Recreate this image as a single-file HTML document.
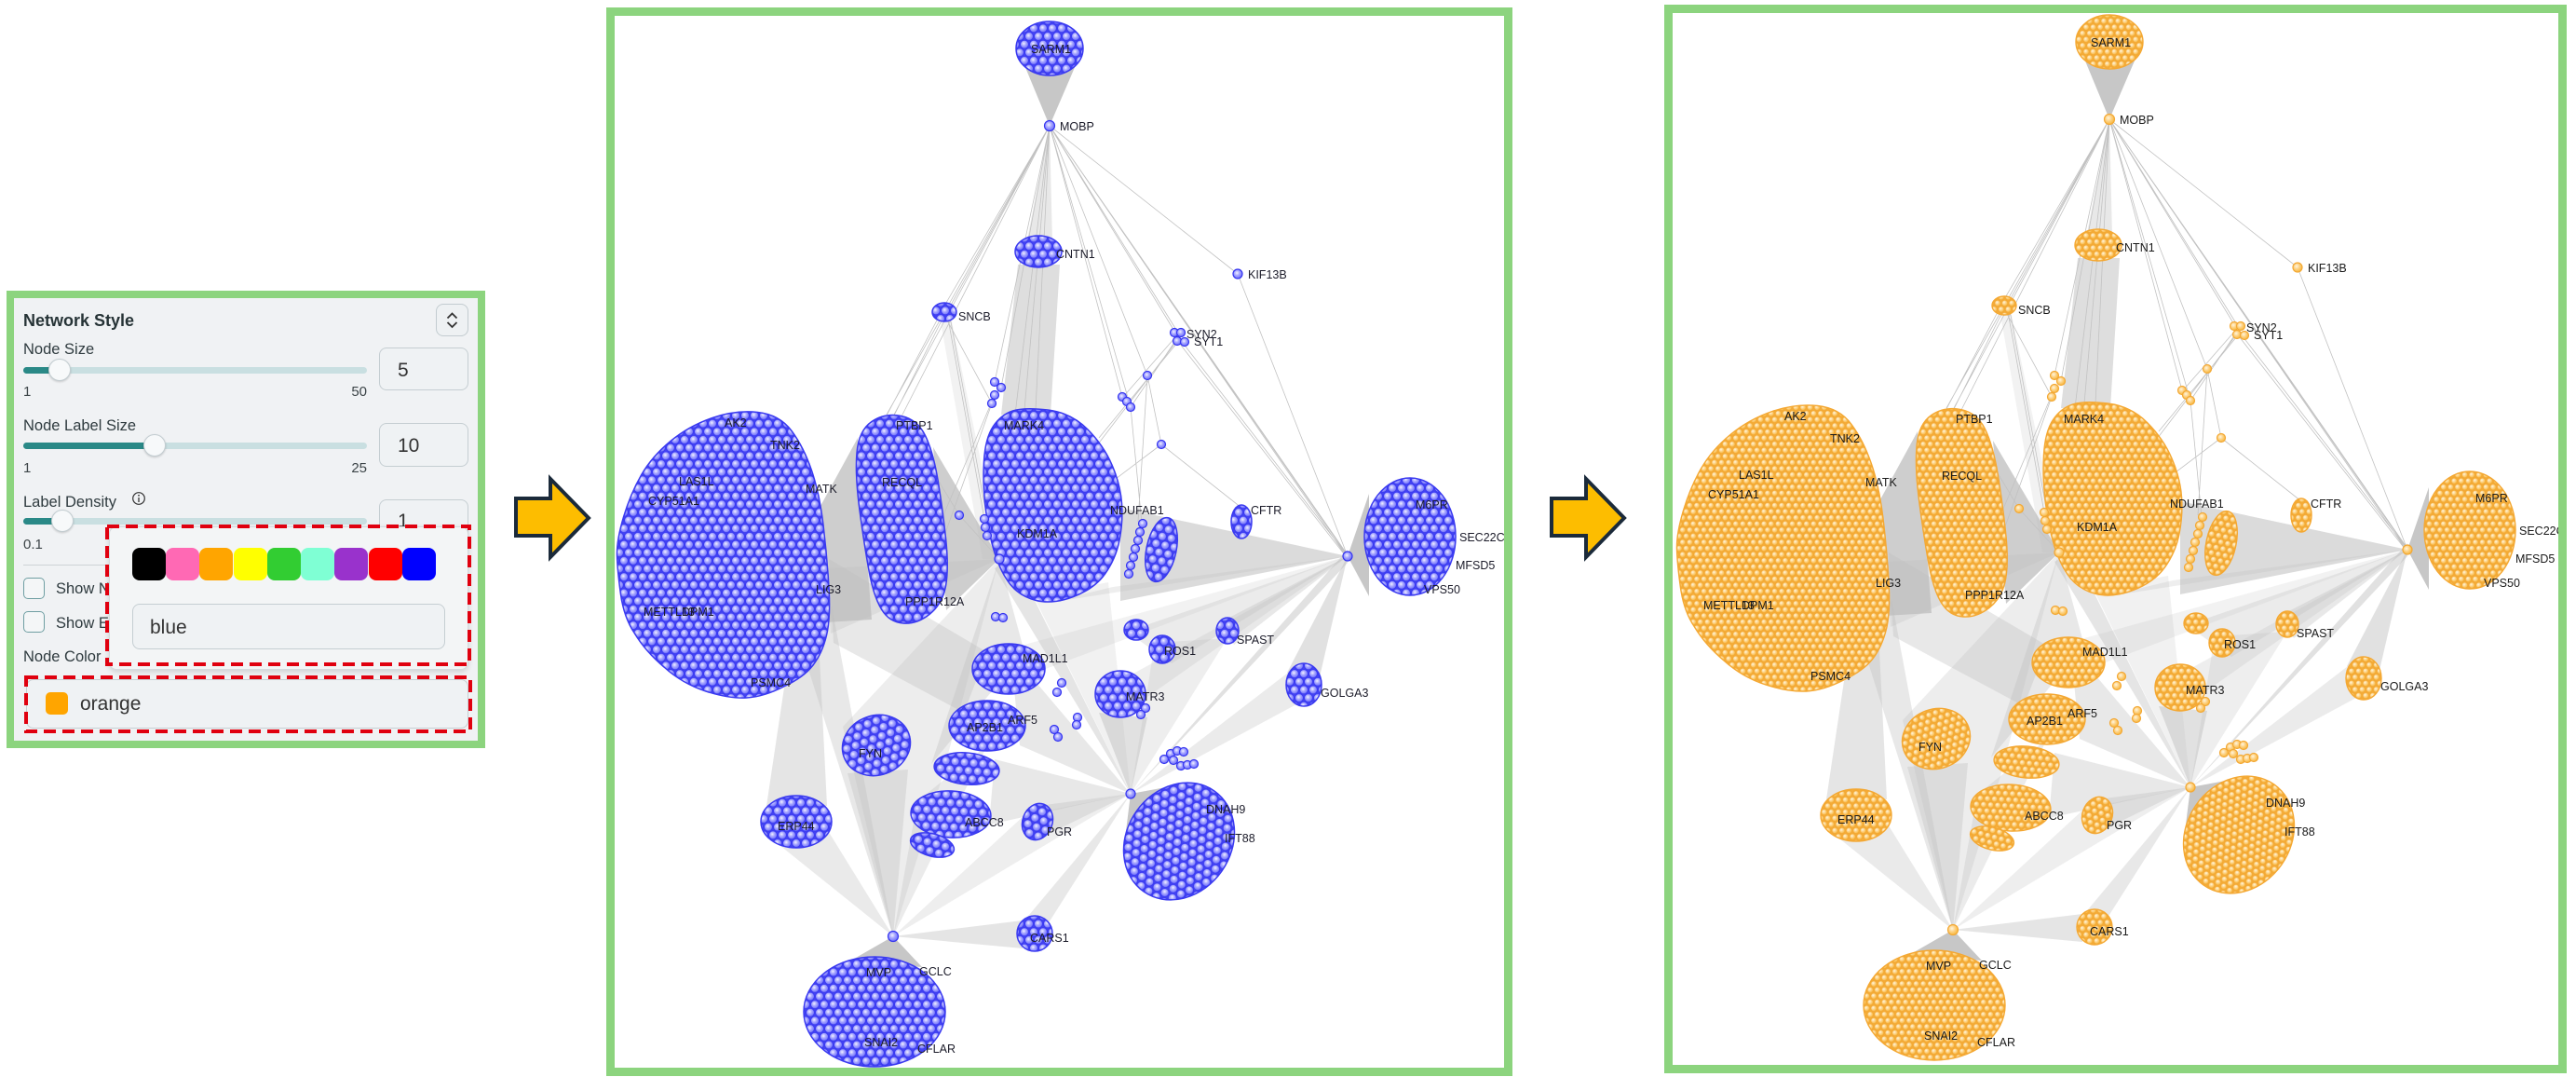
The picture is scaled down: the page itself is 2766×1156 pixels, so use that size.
<!DOCTYPE html>
<html><head><meta charset="utf-8">
<style>
html,body{margin:0;padding:0;background:#fff}
body{width:2766px;height:1156px;position:relative;overflow:hidden;font-family:"Liberation Sans",Arial,sans-serif}
.a{position:absolute}
.t{position:absolute;white-space:nowrap;line-height:1;color:#2f3b3f;font-family:"Liberation Sans",Arial,sans-serif}
.lb{font-size:16.5px}
.sm{font-size:15px;color:#3d4548}
.trk{position:absolute;left:25px;width:369px;height:7px;border-radius:4px;background:#c9dfe1}
.fil{position:absolute;left:25px;height:7px;border-radius:4px;background:#2a8987}
.thm{position:absolute;width:24px;height:24px;border-radius:50%;background:#f7f9fa;border:1px solid #c3cdd1;box-sizing:border-box;box-shadow:0 1px 2px rgba(0,0,0,.18)}
.inp{position:absolute;border:1px solid #c5ced2;border-radius:8px;box-sizing:border-box;background:#eff2f4}
.cb{position:absolute;left:25px;width:23px;height:23px;border:1.5px solid #6f9ea2;border-radius:5px;box-sizing:border-box;background:#f4f6f7}
.sw{position:absolute;top:588px;width:36px;height:35px;border-radius:8px}
</style></head><body>

<svg class="a" style="left:0;top:0" width="2766" height="1156" viewBox="0 0 2766 1156">
<defs>
<radialGradient id="gb" cx=".42" cy=".4" r=".62"><stop offset="0" stop-color="#f2f2ff"/><stop offset=".45" stop-color="#a6a6ff"/><stop offset="1" stop-color="#6c6cfa"/></radialGradient>
<radialGradient id="go" cx=".4" cy=".38" r=".62"><stop offset="0" stop-color="#fff6de"/><stop offset=".5" stop-color="#fdd285"/><stop offset="1" stop-color="#f8b940"/></radialGradient>
<pattern id="pb" width="10" height="17.32" patternUnits="userSpaceOnUse">
<rect width="10" height="17.32" fill="#4444f0"/>
<g fill="url(#gb)" stroke="#3a3af2" stroke-width="1"><circle cx="5" cy="4.33" r="4.5"/><circle cx="0" cy="12.99" r="4.5"/><circle cx="10" cy="12.99" r="4.5"/></g>
</pattern>
<pattern id="po" width="7.6" height="13.164" patternUnits="userSpaceOnUse">
<rect width="7.6" height="13.164" fill="#f4ab38"/>
<g fill="url(#go)" stroke="#f3a934" stroke-width="1"><circle cx="3.8" cy="3.291" r="3.3"/><circle cx="0" cy="9.873" r="3.3"/><circle cx="7.6" cy="9.873" r="3.3"/></g>
</pattern>

<g id="E">
<g fill="#bdbdbd" stroke="none">
<polygon points="1100,70 1155,70 1127,135" fill-opacity=".85"/>
<polygon points="1093,284 1138,284 1128,445 1075,445" fill-opacity=".5"/>
<polygon points="1127,135 1102,262 1130,262" fill-opacity=".35"/>
<polygon points="880,545 921,470 936,665 886,668" fill-opacity=".75"/>
<polygon points="1002,480 1016,655 1073,600" fill-opacity=".75"/>
<polygon points="1073,600 1058,520 1100,640" fill-opacity=".7"/>
<polygon points="866,712 893,650 959,1005" fill-opacity=".35"/>
<polygon points="842,738 880,705 888,865 823,865" fill-opacity=".4"/>
<polygon points="822,895 888,890 959,1005" fill-opacity=".32"/>
<polygon points="890,600 895,690 1035,765 1060,700" fill-opacity=".35"/>
<polygon points="1073,600 905,780 959,1005 1010,840" fill-opacity=".28"/>
<polygon points="959,1005 910,830 975,826" fill-opacity=".35"/>
<polygon points="959,1005 985,860 1060,800" fill-opacity=".3"/>
<polygon points="959,1005 1100,875 1214,852" fill-opacity=".25"/>
<polygon points="959,1005 1098,988 1098,1018" fill-opacity=".4"/>
<polygon points="959,1005 912,1032 990,1038" fill-opacity=".85"/>
<polygon points="1214,852 1068,610 1088,598" fill-opacity=".4"/>
<polygon points="1214,852 1085,700 1095,800" fill-opacity=".35"/>
<polygon points="1214,852 1068,815 1062,885" fill-opacity=".35"/>
<polygon points="1214,852 1122,864 1124,896" fill-opacity=".35"/>
<polygon points="1214,852 1100,988 1125,992" fill-opacity=".35"/>
<polygon points="1214,852 1180,765 1232,770" fill-opacity=".45"/>
<polygon points="1214,852 1110,640 1190,625" fill-opacity=".22"/>
<polygon points="1214,852 1447,590 1447,604" fill-opacity=".45"/>
<polygon points="1214,852 1383,722 1392,756" fill-opacity=".3"/>
<polygon points="1214,852 1240,690 1318,685" fill-opacity=".25"/>
<polygon points="1214,852 1208,900 1268,842" fill-opacity=".85"/>
<polygon points="1203,545 1447,597 1203,645" fill-opacity=".55"/>
<polygon points="1447,597 1470,530 1470,640" fill-opacity=".85"/>
<polygon points="1447,597 1210,678 1258,712" fill-opacity=".3"/>
<polygon points="1447,597 1310,668 1325,692" fill-opacity=".35"/>
<polygon points="1447,597 1382,722 1412,748" fill-opacity=".45"/>
<polygon points="1447,597 1120,648 1195,630" fill-opacity=".25"/>
<polygon points="1447,597 1100,692 1112,722" fill-opacity=".2"/>
<polygon points="1447,597 1195,735 1215,760" fill-opacity=".25"/>
<polygon points="1073,600 1000,820 1100,700" fill-opacity=".35"/>
<polygon points="1073,600 888,610 892,680" fill-opacity=".28"/>
<polygon points="1010,345 1022,345 1075,600 1055,600" fill-opacity=".2"/>
</g>
<path fill="none" stroke="#c2c2c2" stroke-width=".8" d="M1127 135L952 445M1127 135L960 445M1127 135L968 447M1127 135L1013 330M1127 135L1019 331M1127 135L1068 410M1127 135L1075 416M1127 135L1205 426M1127 135L1214 437M1127 135L1232 403M1127 135L1262 357M1127 135L1268 362M1127 135L1329 294M1127 135L1444 595M1127 135L1447 597M1127 135L1450 600M1127 135L1090 445M1127 135L1100 440M1127 135L1112 440M1008 340L952 446M1012 342L960 446M1016 342L1065 433M1020 340L1060 557M1018 342L1057 557M1329 294L1447 597M1270 368L1447 597M1266 368L1445 597M1262 366L1214 437M1262 362L1206 426M1264 368L1180 470M1262 368L1175 482M1232 403L1247 477M1247 477L1333 545M1247 477L1190 520M1214 437L1226 562M1232 403L1222 560M1030 553L1073 600M1030 553L998 500M1068 424L1010 560M1065 433L1005 600"/>
</g>

<g id="C">
<path d="M813.5,442.5 Q837,445 850,462.5 Q863,480 871.5,505 Q880,530 884,563.5 Q888,597 890,630 Q892,663 887.5,682 Q883,701 873,714 Q863,727 841.5,737 Q820,748 801.5,749 Q783,750 758,742 Q733,734 713,716 Q693,699 681.5,680 Q670,663 666.5,638 Q663,613 662.5,596.5 Q662,580 669.5,555 Q677,530 688.5,510 Q700,490 720,473.5 Q740,457 765,448.5 Q790,440 813.5,442.5 Z"/>
<path d="M967.5,446.5 Q985,450 993.5,467.5 Q1002,485 1007,515 Q1012,545 1015.5,577.5 Q1019,610 1015.5,629 Q1012,648 998.5,659 Q985,670 970,669 Q955,668 946.5,654 Q938,640 933,612.5 Q928,585 923,547.5 Q918,510 920,486 Q922,462 936,452.5 Q950,443 967.5,446.5 Z"/>
<path d="M1125,440 Q1150,443 1167.5,460.5 Q1185,478 1194,499 Q1203,520 1204.5,540 Q1206,560 1202,580 Q1198,600 1186.5,616 Q1175,632 1152.5,640.5 Q1130,649 1112.5,644.5 Q1095,640 1085,627.5 Q1075,615 1068.5,595 Q1062,575 1058.5,547.5 Q1055,520 1056.5,495 Q1058,470 1066.5,457.5 Q1075,445 1087.5,441 Q1100,437 1125,440 Z"/>
<ellipse cx="1514" cy="576" rx="49" ry="63"/>
<ellipse cx="939" cy="1086" rx="76" ry="59"/>
<ellipse cx="1266" cy="903" rx="56" ry="66" transform="rotate(35 1266 903)"/>
<ellipse cx="1127" cy="52" rx="36" ry="29"/>
<ellipse cx="1115" cy="270" rx="25" ry="17"/>
<ellipse cx="1014" cy="335" rx="13" ry="10"/>
<ellipse cx="1333" cy="560" rx="11" ry="18"/>
<ellipse cx="1247" cy="590" rx="16" ry="35" transform="rotate(12 1247 590)"/>
<ellipse cx="1083" cy="718" rx="39" ry="27"/>
<ellipse cx="1060" cy="779" rx="41" ry="27"/>
<ellipse cx="1038" cy="825" rx="35" ry="17" transform="rotate(5 1038 825)"/>
<ellipse cx="941" cy="800" rx="37" ry="32" transform="rotate(-20 941 800)"/>
<ellipse cx="1021" cy="874" rx="43" ry="25" transform="rotate(3 1021 874)"/>
<ellipse cx="1001" cy="907" rx="24" ry="12" transform="rotate(15 1001 907)"/>
<ellipse cx="1114" cy="882" rx="16" ry="20" transform="rotate(20 1114 882)"/>
<ellipse cx="855" cy="882" rx="38" ry="28"/>
<ellipse cx="1111" cy="1002" rx="19" ry="19"/>
<ellipse cx="1203" cy="745" rx="27" ry="25"/>
<ellipse cx="1248" cy="697" rx="14" ry="15"/>
<ellipse cx="1318" cy="677" rx="12" ry="14"/>
<ellipse cx="1400" cy="735" rx="19" ry="23"/>
<ellipse cx="1220" cy="676" rx="13" ry="11"/>
</g>

<g id="N">
<circle cx="1127" cy="135" r="5.5"/><circle cx="1329" cy="294" r="5"/>
<circle cx="1073" cy="600" r="5"/><circle cx="1214" cy="852" r="5"/><circle cx="959" cy="1005" r="5.5"/><circle cx="1447" cy="597" r="5"/>
<circle cx="1068" cy="410" r="4.5"/><circle cx="1075" cy="416" r="4.5"/><circle cx="1068" cy="424" r="4.5"/><circle cx="1065" cy="433" r="4.5"/>
<circle cx="1232" cy="403" r="4.5"/><circle cx="1205" cy="426" r="4.5"/><circle cx="1210" cy="431" r="4.5"/><circle cx="1214" cy="437" r="4.5"/>
<circle cx="1247" cy="477" r="4.5"/><circle cx="1030" cy="553" r="4.5"/><circle cx="1057" cy="557" r="4.5"/><circle cx="1058" cy="566" r="4.5"/><circle cx="1060" cy="575" r="4.5"/>
<circle cx="1069" cy="662" r="4.5"/><circle cx="1077" cy="663" r="4.5"/><circle cx="1140" cy="733" r="4.5"/><circle cx="1135" cy="743" r="4.5"/>
<circle cx="1157" cy="770" r="4.5"/><circle cx="1156" cy="778" r="4.5"/><circle cx="1132" cy="783" r="4.5"/><circle cx="1136" cy="791" r="4.5"/>
<circle cx="1230" cy="760" r="4.5"/><circle cx="1225" cy="767" r="4.5"/>
<circle cx="1261" cy="357" r="4.5"/><circle cx="1268" cy="357" r="4.5"/><circle cx="1264" cy="366" r="4.5"/><circle cx="1272" cy="367" r="4.5"/>
<circle cx="1250" cy="815" r="4.5"/><circle cx="1257" cy="809" r="4.5"/><circle cx="1264" cy="806" r="4.5"/><circle cx="1271" cy="807" r="4.5"/><circle cx="1260" cy="816" r="4.5"/><circle cx="1268" cy="822" r="4.5"/><circle cx="1275" cy="821" r="4.5"/><circle cx="1282" cy="820" r="4.5"/>
<circle cx="1227" cy="562" r="4.5"/><circle cx="1224" cy="571" r="4.5"/><circle cx="1222" cy="580" r="4.5"/><circle cx="1219" cy="589" r="4.5"/><circle cx="1217" cy="598" r="4.5"/><circle cx="1214" cy="607" r="4.5"/><circle cx="1212" cy="616" r="4.5"/>
</g>
</defs>

<!-- arrows -->
<polygon points="554,535 591,535 591,514 632,556 591,598 591,575 554,575" fill="#fdbd00" stroke="#1b2a3a" stroke-width="4"/>
<polygon points="1666,535 1703,535 1703,514 1744,556 1703,598 1703,575 1666,575" fill="#fdbd00" stroke="#1b2a3a" stroke-width="4"/>

<!-- middle panel -->
<rect x="655.5" y="12.5" width="964" height="1138" fill="#fff"/>
<use href="#E"/>
<use href="#C" fill="url(#pb)" stroke="#3a3af0" stroke-width="1.5"/>
<use href="#N" fill="url(#gb)" stroke="#3535f0" stroke-width="1.2"/>
<g font-family="Liberation Sans,Arial,sans-serif" font-size="12.5" fill="#1c1c2a">
<text x="1107" y="57">SARM1</text><text x="1138" y="140">MOBP</text><text x="1134" y="277">CNTN1</text><text x="1340" y="299">KIF13B</text>
<text x="1029" y="344">SNCB</text><text x="1274" y="363">SYN2</text><text x="1282" y="371">SYT1</text>
<text x="778" y="458">AK2</text><text x="827" y="482">TNK2</text><text x="962" y="461">PTBP1</text><text x="1078" y="461">MARK4</text>
<text x="729" y="521">LAS1L</text><text x="947" y="522">RECQL</text><text x="865" y="529">MATK</text><text x="696" y="542">CYP51A1</text>
<text x="1520" y="546">M6PR</text><text x="1192" y="552">NDUFAB1</text><text x="1343" y="552">CFTR</text><text x="1092" y="577">KDM1A</text>
<text x="1567" y="581">SEC22C</text><text x="1563" y="611">MFSD5</text><text x="876" y="637">LIG3</text><text x="1529" y="637">VPS50</text>
<text x="972" y="650">PPP1R12A</text><text x="691" y="661">METTL13</text><text x="732" y="661">DPM1</text>
<text x="1328" y="691">SPAST</text><text x="1250" y="703">ROS1</text><text x="1098" y="711">MAD1L1</text><text x="806" y="737">PSMC4</text>
<text x="1418" y="748">GOLGA3</text><text x="1209" y="752">MATR3</text><text x="1082" y="777">ARF5</text><text x="1038" y="785">AP2B1</text>
<text x="922" y="813">FYN</text><text x="1295" y="873">DNAH9</text><text x="1036" y="887">ABCC8</text><text x="835" y="891">ERP44</text>
<text x="1124" y="897">PGR</text><text x="1315" y="904">IFT88</text><text x="1106" y="1011">CARS1</text><text x="987" y="1047">GCLC</text>
<text x="930" y="1048">MVP</text><text x="928" y="1123">SNAI2</text><text x="985" y="1130">CFLAR</text>
</g>
<rect x="655.5" y="12.5" width="964" height="1138" fill="none" stroke="#8cd47e" stroke-width="9"/>

<!-- right panel -->
<rect x="1791.5" y="9.5" width="960" height="1138" fill="#fff"/>
<g transform="translate(1138,-7)">
<use href="#E"/>
<use href="#C" fill="url(#po)" stroke="#f4a833" stroke-width="1.4"/>
<use href="#N" fill="url(#go)" stroke="#f3a834" stroke-width="1.2"/>
<g font-family="Liberation Sans,Arial,sans-serif" font-size="12.5" fill="#1a1a1a">
<text x="1107" y="57">SARM1</text><text x="1138" y="140">MOBP</text><text x="1134" y="277">CNTN1</text><text x="1340" y="299">KIF13B</text>
<text x="1029" y="344">SNCB</text><text x="1274" y="363">SYN2</text><text x="1282" y="371">SYT1</text>
<text x="778" y="458">AK2</text><text x="827" y="482">TNK2</text><text x="962" y="461">PTBP1</text><text x="1078" y="461">MARK4</text>
<text x="729" y="521">LAS1L</text><text x="947" y="522">RECQL</text><text x="865" y="529">MATK</text><text x="696" y="542">CYP51A1</text>
<text x="1520" y="546">M6PR</text><text x="1192" y="552">NDUFAB1</text><text x="1343" y="552">CFTR</text><text x="1092" y="577">KDM1A</text>
<text x="1567" y="581">SEC22C</text><text x="1563" y="611">MFSD5</text><text x="876" y="637">LIG3</text><text x="1529" y="637">VPS50</text>
<text x="972" y="650">PPP1R12A</text><text x="691" y="661">METTL13</text><text x="732" y="661">DPM1</text>
<text x="1328" y="691">SPAST</text><text x="1250" y="703">ROS1</text><text x="1098" y="711">MAD1L1</text><text x="806" y="737">PSMC4</text>
<text x="1418" y="748">GOLGA3</text><text x="1209" y="752">MATR3</text><text x="1082" y="777">ARF5</text><text x="1038" y="785">AP2B1</text>
<text x="922" y="813">FYN</text><text x="1295" y="873">DNAH9</text><text x="1036" y="887">ABCC8</text><text x="835" y="891">ERP44</text>
<text x="1124" y="897">PGR</text><text x="1315" y="904">IFT88</text><text x="1106" y="1011">CARS1</text><text x="987" y="1047">GCLC</text>
<text x="930" y="1048">MVP</text><text x="928" y="1123">SNAI2</text><text x="985" y="1130">CFLAR</text>
</g>
</g>
<rect x="1791.5" y="9.5" width="960" height="1138" fill="none" stroke="#8cd47e" stroke-width="9"/>
</svg>

<!-- left control panel -->
<div class="a" style="left:7px;top:312px;width:514px;height:491px;box-sizing:border-box;border:8.5px solid #8cd47e;background:#f0f2f4"></div>
<div class="t" style="left:25px;top:335px;font-size:18px;font-weight:bold;color:#263336">Network Style</div>
<div class="a" style="left:468px;top:326px;width:35px;height:35px;border:1px solid #c3ccd0;border-radius:8px;box-sizing:border-box;background:#eef1f3">
<svg width="33" height="33" style="position:absolute;left:0;top:0"><path d="M11.5 14.5 L16.5 9.5 L21.5 14.5 M11.5 19 L16.5 24 L21.5 19" fill="none" stroke="#333" stroke-width="1.8"/></svg>
</div>

<div class="t lb" style="left:25px;top:367px">Node Size</div>
<div class="trk" style="top:394px"></div><div class="fil" style="top:394px;width:39px"></div>
<div class="thm" style="left:52px;top:385px"></div>
<div class="t sm" style="left:25px;top:413px">1</div>
<div class="t sm" style="left:354px;width:40px;text-align:right;top:413px">50</div>
<div class="inp" style="left:407px;top:373px;width:96px;height:46px"></div>
<div class="t" style="left:427px;top:387px;font-size:21px;color:#333">5</div>

<div class="t lb" style="left:25px;top:449px">Node Label Size</div>
<div class="trk" style="top:474.5px"></div><div class="fil" style="top:474.5px;width:141px"></div>
<div class="thm" style="left:154px;top:466px"></div>
<div class="t sm" style="left:25px;top:495px">1</div>
<div class="t sm" style="left:354px;width:40px;text-align:right;top:495px">25</div>
<div class="inp" style="left:407px;top:454px;width:96px;height:47px"></div>
<div class="t" style="left:427px;top:468px;font-size:21px;color:#333">10</div>

<div class="t lb" style="left:25px;top:531px">Label Density</div>
<svg class="a" style="left:141px;top:527px" width="16" height="16"><circle cx="8" cy="8" r="6.3" fill="none" stroke="#333" stroke-width="1.2"/><line x1="8" y1="7" x2="8" y2="12" stroke="#333" stroke-width="1.3"/><circle cx="8" cy="4.8" r=".9" fill="#333"/></svg>
<div class="trk" style="top:555.5px"></div><div class="fil" style="top:555.5px;width:42px"></div>
<div class="thm" style="left:55px;top:547px"></div>
<div class="t sm" style="left:25px;top:577px">0.1</div>
<div class="inp" style="left:407px;top:536px;width:96px;height:46px"></div>
<div class="t" style="left:427px;top:549px;font-size:21px;color:#333">1</div>

<div class="a" style="left:25px;top:606px;width:478px;height:1px;background:#cdd3d6"></div>
<div class="cb" style="top:620px"></div>
<div class="t lb" style="left:60px;top:624px">Show Node Labels</div>
<div class="cb" style="top:656px"></div>
<div class="t lb" style="left:60px;top:661px">Show Edge Labels</div>
<div class="t lb" style="left:25px;top:697px">Node Color</div>

<!-- popup -->
<div class="a" style="left:117px;top:565px;width:386px;height:154px;box-sizing:border-box;background:#f3f5f6;border:1px solid #d5dadd;border-radius:8px;box-shadow:0 2px 6px rgba(0,0,0,.15)"></div>
<div class="sw" style="left:142px;background:#000000"></div>
<div class="sw" style="left:178px;background:#ff69b4"></div>
<div class="sw" style="left:214px;background:#ffa500"></div>
<div class="sw" style="left:251px;background:#ffff00"></div>
<div class="sw" style="left:287px;background:#32cd32"></div>
<div class="sw" style="left:323px;background:#7fffd4"></div>
<div class="sw" style="left:359px;background:#9932cc"></div>
<div class="sw" style="left:396px;background:#ff0000"></div>
<div class="sw" style="left:432px;background:#0000ff"></div>
<div class="inp" style="left:142px;top:648px;width:336px;height:49px"></div>
<div class="t" style="left:161px;top:663px;font-size:21px;color:#333">blue</div>

<div class="inp" style="left:28px;top:729px;width:475px;height:53px"></div>
<div class="a" style="left:49px;top:743px;width:24px;height:24px;border-radius:5px;background:#ffa500"></div>
<div class="t" style="left:86px;top:745px;font-size:21px;color:#333">orange</div>

<svg class="a" style="left:0;top:0" width="530" height="810">
<rect x="115" y="565" width="389" height="148" fill="none" stroke="#e0000f" stroke-width="4" stroke-dasharray="13 7"/>
<rect x="28" y="727" width="477" height="58" fill="none" stroke="#e0000f" stroke-width="4" stroke-dasharray="13 7"/>
</svg>
</body></html>
